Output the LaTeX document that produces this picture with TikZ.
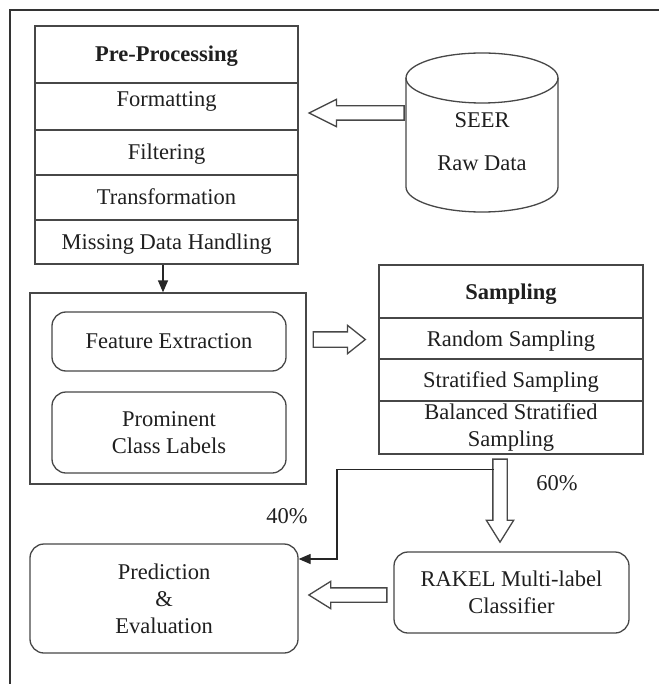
\documentclass[tikz,border=0pt]{standalone}
\usepackage{fontspec}
\setmainfont{Liberation Serif}
\usetikzlibrary{shapes.arrows,arrows.meta,calc}
\begin{document}
\begin{tikzpicture}[x=1pt,y=-1pt,
  every node/.style={font=\rmfamily\fontsize{22.5}{27}\selectfont, text=black!88},
  ln/.style={draw=black!72, line width=1.3pt},
  row/.style={ln, rectangle, inner sep=0pt, align=center, text height=16pt, text depth=1pt},
  mrow/.style={ln, rectangle, inner sep=0pt, align=center},
  rbox/.style={ln, rectangle, rounded corners=14pt, inner sep=0pt, align=center},
  hollow/.style={ln, single arrow, inner xsep=0pt, inner ysep=6.5pt, single arrow head extend=6.5pt, fill=white},
  vhollow/.style={hollow, inner xsep=6.5pt, inner ysep=0pt},
  blk/.style={draw=black!85, line width=1.3pt, -{Triangle[length=12pt,width=10pt]}},
]
\useasboundingbox (0,0) rectangle (659,684);
\fill[white] (0,0) rectangle (659,684);
\draw[black!80, line width=1.8pt] (10,684) -- (10,10) -- (659,10);

% Pre-processing table
\node[row, minimum width=263pt, minimum height=57pt] (pp0) at (166.5,54.5) {\textbf{Pre-Processing}};
\node[row, minimum width=263pt, minimum height=47pt] (pp1) at (166.5,106.5) {\raisebox{7pt}[0pt][0pt]{Formatting}};
\node[row, minimum width=263pt, minimum height=45pt] (pp2) at (166.5,152.5) {Filtering};
\node[row, minimum width=263pt, minimum height=45pt] (pp3) at (166.5,197.5) {Transformation};
\node[row, minimum width=263pt, minimum height=44pt] (pp4) at (166.5,242) {Missing Data Handling};

% SEER cylinder
\draw[ln] (406,78) -- (406,187) arc[start angle=180, end angle=360, x radius=76pt, y radius=25pt] -- (558,78);
\draw[ln] (482,78) ellipse [x radius=76pt, y radius=25pt];
\node[inner sep=0pt, minimum width=152pt, align=center] (seer) at (482,141.5) {SEER\\[16pt]Raw Data};

% Feature box
\node[ln, rectangle, minimum width=276pt, minimum height=191pt] (fbox) at (168,388.5) {};
\node[rbox, minimum width=234pt, minimum height=59pt] (fe) at (169,341.5) {Feature Extraction};
\node[rbox, minimum width=234pt, minimum height=81pt] (pcl) at (169,432.5) {Prominent\\Class Labels};

% Sampling table
\node[row, minimum width=264pt, minimum height=53pt] (s0) at (511,291.5) {\textbf{Sampling}};
\node[row, minimum width=264pt, minimum height=41pt] (s1) at (511,338.5) {Random Sampling};
\node[row, minimum width=264pt, minimum height=42pt] (s2) at (511,380) {Stratified Sampling};
\node[mrow, minimum width=264pt, minimum height=53pt] (s3) at (511,427.5) {Balanced Stratified\\Sampling};

% Bottom boxes
\node[rbox, minimum width=268pt, minimum height=109pt] (pred) at (164,598.5) {Prediction\\\&\\Evaluation};
\node[rbox, minimum width=235pt, minimum height=81pt] (rakel) at (511.5,592.5) {RAKEL Multi-label\\Classifier};

% Hollow arrows
\node[hollow, minimum height=95pt, single arrow tip angle=53, shape border rotate=180, anchor=tip] (a1) at ($(pp1.east)+(9,6.5)$) {};
\node[hollow, minimum height=52pt, inner ysep=7pt, single arrow tip angle=77, anchor=tip] (a2) at ($(s1.west)+(-12,1)$) {};
\node[vhollow, minimum height=83pt, single arrow tip angle=64, shape border rotate=270, anchor=tip] (a3) at ($(rakel.north)+(-11.5,-8)$) {};
\node[hollow, minimum height=78pt, single arrow tip angle=64, shape border rotate=180, anchor=tip] (a4) at ($(pred.east)+(9,-3.5)$) {};

% Black arrows
\draw[blk] ($(pp4.south)+(-3.5,0)$) -- ($(fbox.north)+(-5,0)$);
\coordinate (c40) at ($(a3.tail)+(-6.5,11)$);
\draw[blk] (c40) -- ++(-156.5,0) |- ($(pred.east)+(0,-39.5)$);

% Labels
\node (p40) at (287,516) {40\%};
\node (p60) at (557,483) {60\%};
\end{tikzpicture}
\end{document}
